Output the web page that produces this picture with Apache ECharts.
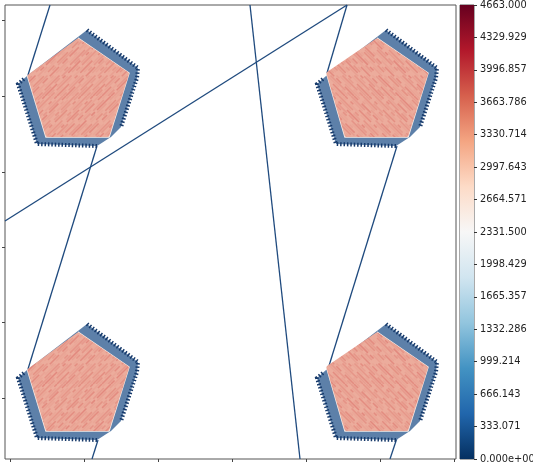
<!DOCTYPE html>
<html>
<head>
<meta charset="utf-8">
<style>html,body{margin:0;padding:0;background:#fff}#chart{width:533px;height:465px}</style>
<script src="https://cdn.jsdelivr.net/npm/echarts@6/dist/echarts.min.js"></script>
</head>
<body>
<div id="chart"></div>
<script>
// data units of the main plot (labels are hidden in the reference)
const xRange = [0, 451];
const yRange = [0, 454];
const xTicks = [5.5, 79, 153, 227, 301, 375, 449];
const yTicks = [61, 137, 212, 287, 363, 439];

// pentagon cell, moved by cellOffsets. left column and right column differ a little at the left corner
const shell = [[82, 429], [133, 391], [132, 381], [116, 332], [106, 322], [92, 313], [32, 315], [13, 375], [22, 383]];
const shellTeeth = [[82, 429], [133, 391], [132, 381], [116, 332]];
const shellTeethLow = [[92, 313], [32, 315], [13, 375], [20, 381]];
const coreLeft = [[73, 418.5], [122, 385], [102.5, 324], [42.5, 324], [24.5, 383]];
const coreRight = [[73, 418.5], [122, 385], [102.5, 324], [42.5, 324], [24.5, 385.5]];
const haloLeft = [[73, 421], [124, 386], [104, 322], [41, 322], [22.5, 383]];
const haloRight = [[73, 421], [124, 386], [104, 322], [41, 322], [22.5, 386]];
const cellOffsets = [[0, 0], [299, 0], [0, -294], [299, -294]];
const cellColumns = [0, 1, 0, 1];
const streakDirs = [1, -1, 1, -1];

// straight traces crossing the plot
const traces = [
  [[45, 454], [23, 384]],
  [[92, 313], [23, 90]],
  [[93, 19], [87, 0]],
  [[0, 238], [342, 454]],
  [[245, 454], [295, 0]],
  [[342, 454], [322, 386]],
  [[392, 313], [323, 90]],
  [[392, 21], [385, 0]]
];

const colorbarMax = 4663;
const colorbarTicks = [0, 333.071, 666.143, 999.214, 1332.286, 1665.357, 1998.429, 2331.5, 2664.571, 2997.643, 3330.714, 3663.786, 3996.857, 4329.929, 4663];
const colorbarLabels = ['0.000e+00', '333.071', '666.143', '999.214', '1332.286', '1665.357', '1998.429', '2331.500', '2664.571', '2997.643', '3330.714', '3663.786', '3996.857', '4329.929', '4663.000'];
const rdbu = ['#053061', '#2166ac', '#4393c3', '#92c5de', '#d1e5f0', '#f7f7f7', '#fddbc7', '#f4a582', '#d6604d', '#b2182b', '#67001f'];

// alpha of the fine broken streaks in the pink fill
const fineStreaks = [.3, .12, .4, .08, .25, .45, .15, .08, .35, .2, .42, .12, .08, .32, .25, .45, .15, .3, .08, .4, .12, .25, .42, .15, .1, .3, .2, .38, .08, .28, .15, .4];
const streakDashes = [[9, 4, 15, 6], [5, 3, 21, 7], [13, 5, 7, 3], [17, 8, 4, 4]];

function makeTexture(dir) {
  const size = 96;
  const c = document.createElement('canvas');
  c.width = c.height = size;
  const ctx = c.getContext('2d');
  ctx.fillStyle = '#ecac9c';
  ctx.fillRect(0, 0, size, size);
  fineStreaks.forEach((a, i) => {
    ctx.strokeStyle = 'rgba(214,96,90,' + a + ')';
    ctx.lineWidth = 1.5;
    ctx.setLineDash(streakDashes[i % streakDashes.length]);
    [-size, 0, size].forEach(off => {
      ctx.beginPath();
      ctx.moveTo(i * 3 + off, size);
      ctx.lineTo(i * 3 + off + dir * size, 0);
      ctx.stroke();
    });
  });
  return c;
}
const textures = { '1': makeTexture(1), '-1': makeTexture(-1) };

const chart = echarts.init(document.getElementById('chart'), null, { renderer: 'canvas' });

const traceSeries = traces.map(t => ({
  type: 'line',
  data: t,
  symbol: 'none',
  silent: true,
  z: 2,
  lineStyle: { color: '#1f4a7e', width: 1.3 }
}));

const cellSeries = {
  type: 'custom',
  coordinateSystem: 'cartesian2d',
  xAxisIndex: 0,
  yAxisIndex: 0,
  silent: true,
  z: 3,
  data: cellOffsets.map((o, i) => [o[0], o[1], i]),
  renderItem: (params, api) => {
    const dx = api.value(0), dy = api.value(1), idx = api.value(2);
    const move = list => list.map(p => api.coord([p[0] + dx, p[1] + dy]));
    const tex = { image: textures[String(streakDirs[idx])], repeat: 'repeat' };
    const core = cellColumns[idx] ? coreRight : coreLeft;
    const halo = cellColumns[idx] ? haloRight : haloLeft;
    return {
      type: 'group',
      children: [
        {
          type: 'polygon',
          shape: { points: move(shell) },
          style: { fill: '#5d80a9', stroke: null }
        },
        {
          type: 'polyline',
          shape: { points: move(shellTeeth) },
          style: { fill: null, stroke: '#173a6b', lineWidth: 4, lineDash: [1.5, 1.9] }
        },
        {
          type: 'polyline',
          shape: { points: move(shellTeethLow) },
          style: { fill: null, stroke: '#173a6b', lineWidth: 4, lineDash: [1.5, 1.9] }
        },
        {
          type: 'polyline',
          shape: { points: move(halo) },
          style: { fill: null, stroke: '#f8ece6', lineWidth: 1.5, lineJoin: 'round' }
        },
        {
          type: 'polygon',
          shape: { points: move(core) },
          style: { fill: tex, stroke: tex, lineWidth: 4, lineJoin: 'round' }
        }
      ]
    };
  }
};

chart.setOption({
  animation: false,
  backgroundColor: '#fff',
  grid: [
    { left: 5, top: 5, width: 451, height: 454, outerBoundsMode: 'none', show: true, borderColor: '#555', borderWidth: 1, backgroundColor: '#fff' },
    { left: 460, top: 5, width: 14, height: 454, outerBoundsMode: 'none', show: true, borderColor: '#555', borderWidth: 1 }
  ],
  xAxis: [
    {
      type: 'value', gridIndex: 0, min: xRange[0], max: xRange[1],
      splitLine: { show: false },
      axisLine: { show: false },
      axisLabel: { show: false },
      axisTick: { show: true, length: 3, customValues: xTicks, lineStyle: { color: '#444' } }
    },
    {
      type: 'category', gridIndex: 1, data: ['c'],
      axisLine: { show: false }, axisTick: { show: false }, axisLabel: { show: false }
    }
  ],
  yAxis: [
    {
      type: 'value', gridIndex: 0, min: yRange[0], max: yRange[1],
      splitLine: { show: false },
      axisLine: { show: false },
      axisLabel: { show: false },
      axisTick: { show: true, length: 3, customValues: yTicks, lineStyle: { color: '#444' } }
    },
    {
      type: 'value', gridIndex: 1, position: 'right', min: 0, max: colorbarMax,
      splitLine: { show: false },
      axisLine: { show: false },
      axisTick: { show: true, length: 3, customValues: colorbarTicks, lineStyle: { color: '#333' } },
      axisLabel: {
        show: true,
        customValues: colorbarTicks,
        margin: 6,
        fontSize: 9.8,
        fontFamily: 'DejaVu Sans',
        color: '#222',
        formatter: v => colorbarLabels[colorbarTicks.indexOf(v)]
      }
    }
  ],
  series: traceSeries.concat([cellSeries, {
    type: 'bar',
    xAxisIndex: 1,
    yAxisIndex: 1,
    data: [colorbarMax],
    barWidth: '100%',
    silent: true,
    itemStyle: {
      color: {
        type: 'linear', x: 0, y: 1, x2: 0, y2: 0,
        colorStops: rdbu.map((c, i) => ({ offset: i / (rdbu.length - 1), color: c }))
      }
    }
  }])
});
</script>
</body>
</html>
